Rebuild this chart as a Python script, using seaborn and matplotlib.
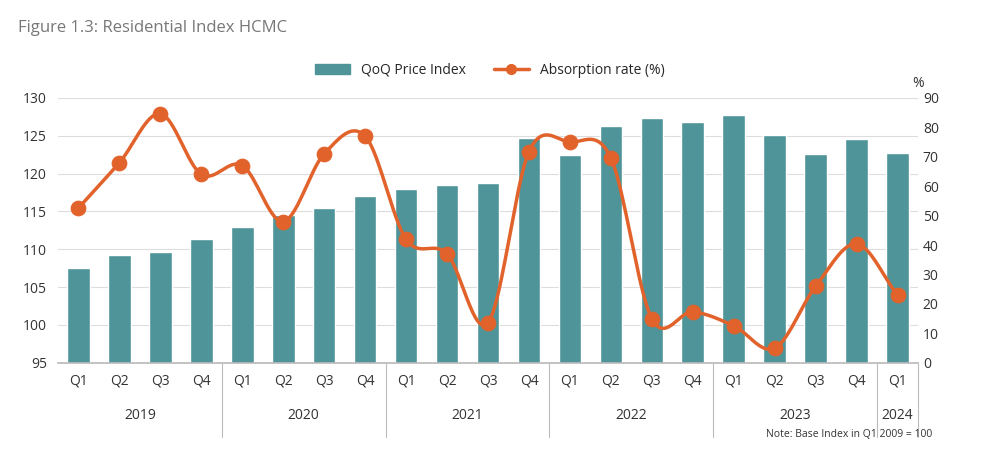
import numpy as np
import pandas as pd
import matplotlib
matplotlib.use("Agg")
import matplotlib.pyplot as plt
import seaborn as sns

quarters = ["Q1", "Q2", "Q3", "Q4"] * 5 + ["Q1"]
years = ["2019", "2020", "2021", "2022", "2023", "2024"]
price_index = [107.5, 109.2, 109.6, 111.3, 113.0, 114.5, 115.4, 117.1,
               118.0, 118.5, 118.8, 124.7, 122.5, 126.3, 127.4, 126.8,
               127.7, 125.1, 122.6, 124.6, 122.7]
absorption = [52.6, 68.0, 84.6, 64.0, 67.0, 48.0, 71.0, 77.0,
              42.0, 37.0, 13.6, 71.7, 75.0, 69.6, 15.0, 17.3,
              12.6, 5.0, 26.0, 40.4, 23.0]

BAR = "#4f9499"
LINE = "#e2622b"
GREY = "#555555"

sns.set_theme(style="white")
plt.rcParams['font.family'] = ['Open Sans', 'DejaVu Sans']

df = pd.DataFrame({"pos": range(len(price_index)), "price": price_index, "abs": absorption})

fig = plt.figure(figsize=(10, 4.53), dpi=100)
ax = fig.add_axes([0.058, 0.199, 0.86, 0.585])
sns.barplot(data=df, x="pos", y="price", color=BAR, width=0.55, ax=ax, saturation=1)
ax.set_ylim(95, 130)
ax.set_yticks(range(95, 131, 5))
ax.set_xlim(-0.5, len(df) - 0.5)
ax.set_xticks(range(len(df)))
ax.set_xticklabels(quarters)
ax.set_xlabel("")
ax.set_ylabel("")
ax.yaxis.grid(True, color="#dddddd", lw=0.8)
ax.set_axisbelow(True)
for s in ["top", "right", "left"]:
    ax.spines[s].set_visible(False)
ax.spines["bottom"].set_color("#bbbbbb")
ax.tick_params(axis="both", labelsize=10, colors="#333333", length=0, pad=8)

ax2 = ax.twinx()
ax2.set_ylim(0, 90)
ax2.set_yticks(range(0, 91, 10))
for s in ax2.spines.values():
    s.set_visible(False)
ax2.tick_params(axis="y", labelsize=10, colors="#333333", length=0)

# smooth curve through the data points (Catmull-Rom)
x = df["pos"].to_numpy(float)
y = df["abs"].to_numpy(float)
px = np.concatenate([[2 * x[0] - x[1]], x, [2 * x[-1] - x[-2]]])
py = np.concatenate([[2 * y[0] - y[1]], y, [2 * y[-1] - y[-2]]])
cx, cy = [], []
t = np.linspace(0, 1, 20)
for i in range(1, len(px) - 2):
    for P, out in ((px, cx), (py, cy)):
        p0, p1, p2, p3 = P[i - 1], P[i], P[i + 1], P[i + 2]
        out.extend(0.5 * (2 * p1 + (-p0 + p2) * t + (2 * p0 - 5 * p1 + 4 * p2 - p3) * t ** 2
                          + (-p0 + 3 * p1 - 3 * p2 + p3) * t ** 3))
ax2.plot(cx, cy, color=LINE, lw=2.5)
sns.scatterplot(data=df, x="pos", y="abs", ax=ax2, color=LINE, s=110, edgecolor=LINE, zorder=5)
ax2.set_xlabel("")
ax2.set_ylabel("")
ax2.text(1.0, 1.04, "%", transform=ax2.transAxes, ha="center", fontsize=10, color="#333333")

# year labels and separators
starts = [0, 4, 8, 12, 16, 20]
for yr, st in zip(years, starts):
    end = min(st + 4, len(df))
    ax.text((st + end - 1) / 2, -0.2, yr, transform=ax.get_xaxis_transform(),
            ha="center", va="center", fontsize=10, color="#333333")
for b in starts[1:] + [len(df)]:
    ax.plot([b - 0.5, b - 0.5], [0, -0.28], transform=ax.get_xaxis_transform(),
            color="#bbbbbb", lw=0.8, clip_on=False)

from matplotlib.patches import Patch
from matplotlib.lines import Line2D
handles = [Patch(color=BAR, label="QoQ Price Index"),
           Line2D([0], [0], color=LINE, lw=2.5, marker="o", ms=7, label="Absorption rate (%)")]
fig.legend(handles=handles, loc="center", bbox_to_anchor=(0.49, 0.845), ncol=2,
           frameon=False, fontsize=10, handlelength=2.5, columnspacing=2)

fig.text(0.018, 0.93, "Figure 1.3: Residential Index HCMC", fontsize=12, color="#777777")
fig.text(0.932, 0.035, "Note: Base Index in Q1 2009 = 100", ha="right", fontsize=7.5, color="#333333")

fig.savefig("out.png", dpi=100)
